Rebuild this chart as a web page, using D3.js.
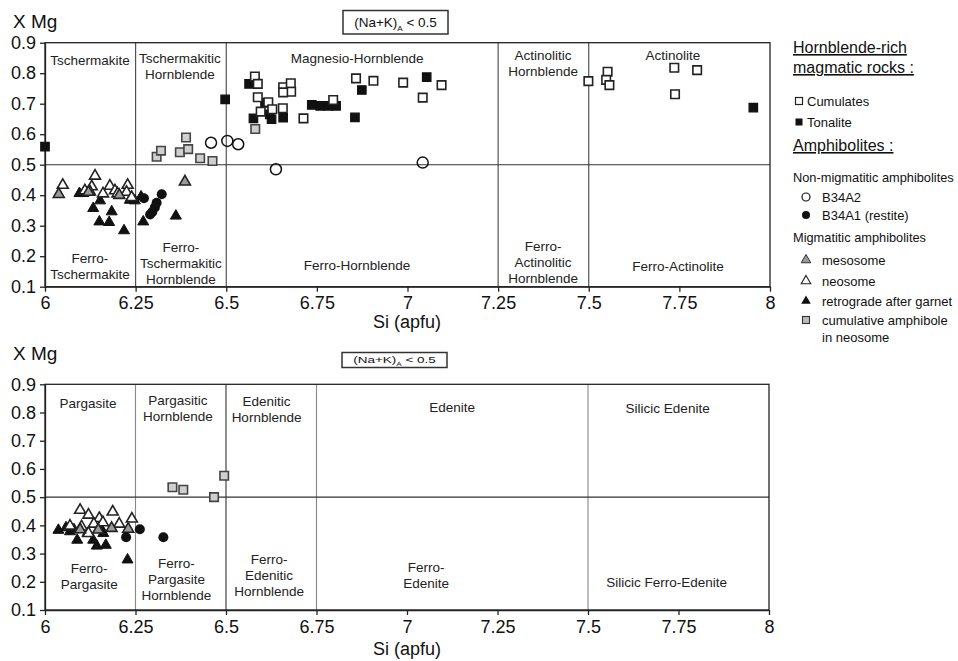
<!DOCTYPE html>
<html><head><meta charset="utf-8">
<script src="https://cdn.jsdelivr.net/npm/d3@7/dist/d3.min.js"></script>
<style>
html,body{margin:0;padding:0;background:#fff;}
svg{display:block;font-family:"Liberation Sans",Arial,Helvetica,sans-serif;}
</style></head>
<body>
<svg id="chart" width="958" height="661"></svg>
<script>
// ---------- DATA ----------
const xTicks = [6, 6.25, 6.5, 6.75, 7, 7.25, 7.5, 7.75, 8];
const yTicks = [0.1, 0.2, 0.3, 0.4, 0.5, 0.6, 0.7, 0.8, 0.9];

// Top panel (Si vs XMg, calcic amphiboles)
const cumulatesTop = [[6.579,0.789],[6.587,0.765],[6.657,0.754],[6.678,0.767],[6.679,0.739],[6.657,0.737],[6.587,0.721],[6.616,0.705],[6.595,0.674],[6.627,0.682],[6.656,0.685],[6.713,0.652],[6.795,0.712],[6.858,0.783],[6.906,0.775],[6.988,0.769],[7.094,0.761],[7.042,0.720],[7.499,0.774],[7.552,0.805],[7.548,0.778],[7.557,0.761],[7.736,0.818],[7.799,0.810],[7.738,0.731]];
const tonaliteTop = [[6.0,0.559],[6.497,0.714],[6.563,0.765],[6.607,0.703],[6.575,0.652],[6.625,0.649],[6.620,0.665],[6.657,0.654],[6.736,0.696],[6.759,0.693],[6.782,0.693],[6.803,0.693],[6.855,0.655],[6.874,0.745],[7.053,0.787],[7.954,0.687]];
const cumAmphTop = [[6.308,0.526],[6.320,0.546],[6.372,0.541],[6.389,0.589],[6.395,0.551],[6.428,0.521],[6.462,0.512],[6.580,0.617]];
const b34a2Top = [[6.458,0.572],[6.503,0.578],[6.533,0.567],[6.637,0.485],[7.042,0.507]];
const b34a1Top = [[6.273,0.390],[6.322,0.403],[6.308,0.375],[6.303,0.360],[6.296,0.345],[6.290,0.337]];
const mesosomeTop = [[6.038,0.403],[6.386,0.444],[6.120,0.410],[6.205,0.400]];
const neosomeTop = [[6.049,0.433],[6.138,0.463],[6.129,0.428],[6.124,0.411],[6.179,0.430],[6.193,0.415],[6.228,0.433],[6.225,0.410],[6.239,0.393],[6.160,0.405],[6.200,0.405],[6.110,0.415]];
const retroTop = [[6.095,0.406],[6.106,0.406],[6.152,0.382],[6.133,0.357],[6.184,0.346],[6.150,0.313],[6.177,0.311],[6.218,0.284],[6.234,0.384],[6.248,0.382],[6.271,0.313],[6.361,0.332],[6.265,0.395]];

// Bottom panel
const cumAmphBot = [[6.352,0.535],[6.382,0.526],[6.467,0.500],[6.495,0.576]];
const b34a1Bot = [[6.224,0.358],[6.262,0.386],[6.327,0.358]];
const neosomeBot = [[6.097,0.454],[6.120,0.437],[6.150,0.425],[6.187,0.448],[6.205,0.405],[6.240,0.423],[6.069,0.398],[6.101,0.395],[6.120,0.372],[6.160,0.410],[6.135,0.405]];
const mesosomeBot = [[6.184,0.390],[6.230,0.387],[6.147,0.384],[6.097,0.385]];
const retroBot = [[6.037,0.383],[6.069,0.378],[6.089,0.348],[6.117,0.372],[6.133,0.348],[6.143,0.327],[6.168,0.330],[6.161,0.372],[6.152,0.395],[6.058,0.392],[6.228,0.278],[6.080,0.385]];

// Field boundaries
const topVLines = [6.25, 6.5, 7.25, 7.5];
const botVLines = [6.25, 6.5, 6.75, 7.5];
const hLine = 0.5;

// Field names: [lines, x (Si), y (XMg) of first baseline]
const topLabels = [
  [["Tschermakite"], 6.124, 0.827],
  [["Tschermakitic","Hornblende"], 6.372, 0.833],
  [["Magnesio-Hornblende"], 6.861, 0.833],
  [["Actinolitic","Hornblende"], 7.374, 0.843],
  [["Actinolite"], 7.732, 0.843],
  [["Ferro-","Tschermakite"], 6.124, 0.178],
  [["Ferro-","Tschermakitic","Hornblende"], 6.375, 0.215],
  [["Ferro-Hornblende"], 6.861, 0.155],
  [["Ferro-","Actinolitic","Hornblende"], 7.374, 0.217],
  [["Ferro-Actinolite"], 7.746, 0.153]
];
const botLabels = [
  [["Pargasite"], 6.119, 0.815],
  [["Pargasitic","Hornblende"], 6.367, 0.827],
  [["Edenitic","Hornblende"], 6.612, 0.824],
  [["Edenite"], 7.125, 0.803],
  [["Silicic Edenite"], 7.72, 0.80],
  [["Ferro-","Pargasite"], 6.122, 0.230],
  [["Ferro-","Pargasite","Hornblende"], 6.363, 0.25],
  [["Ferro-","Edenitic","Hornblende"], 6.619, 0.262],
  [["Ferro-","Edenite"], 7.053, 0.234],
  [["Silicic Ferro-Edenite"], 7.717, 0.183]
];

// ---------- DRAW ----------
const svg = d3.select("#chart");
const FONT_TICK = 18;

const panels = [
  {x: d3.scaleLinear().domain([6,8]).range([45,770]),
   y: d3.scaleLinear().domain([0.1,0.9]).range([286.7,42.7]),
   vlines: topVLines, vcolors: ["#444","#444","#444","#444"], labels: topLabels,
   xmgY: 28, siY: 328, box: {x:343, y:10.5, w:105, h:23.5, fs:13.5, sy:1},
   series: {cum: cumulatesTop, ton: tonaliteTop, ca: cumAmphTop, a2: b34a2Top, a1: b34a1Top, meso: mesosomeTop, neo: neosomeTop, retro: retroTop}},
  {x: d3.scaleLinear().domain([6,8]).range([45,769]),
   y: d3.scaleLinear().domain([0.1,0.9]).range([610,384.3]),
   vlines: botVLines, vcolors: ["#888","#333","#888","#888"], labels: botLabels,
   xmgY: 360, siY: 655, box: {x:342, y:352.5, w:105, h:15, fs:13.5, sy:0.68},
   series: {cum: [], ton: [], ca: cumAmphBot, a2: [], a1: b34a1Bot, meso: mesosomeBot, neo: neosomeBot, retro: retroBot}}
];

const sq = d3.symbol().type(d3.symbolSquare).size(72);
const tri = d3.symbol().type(d3.symbolTriangle).size(52);

panels.forEach(p => {
  const g = svg.append("g");
  const [x0, x1] = p.x.range();
  const [y0, y1] = p.y.range();

  // field boundaries
  p.vlines.forEach((v, i) => {
    g.append("line").attr("x1", p.x(v)).attr("x2", p.x(v)).attr("y1", y0).attr("y2", y1)
      .attr("stroke", p.vcolors[i]).attr("stroke-width", 1.1);
  });
  g.append("line").attr("x1", x0).attr("x2", x1).attr("y1", p.y(hLine)).attr("y2", p.y(hLine))
    .attr("stroke", "#333").attr("stroke-width", 1.1);

  // frame
  g.append("rect").attr("x", x0).attr("y", y1).attr("width", x1 - x0).attr("height", y0 - y1)
    .attr("fill", "none").attr("stroke", "#222").attr("stroke-width", 1.3);

  // axes
  const ax = g.append("g").attr("transform", `translate(0,${y0})`)
    .call(d3.axisBottom(p.x).tickValues(xTicks).tickSize(5).tickSizeOuter(0).tickPadding(5).tickFormat(d3.format("~g")));
  const ay = g.append("g").attr("transform", `translate(${x0},0)`)
    .call(d3.axisLeft(p.y).tickValues(yTicks).tickSize(5).tickSizeOuter(0).tickPadding(4).tickFormat(d3.format(".1f")));
  [ax, ay].forEach(a => {
    a.select(".domain").attr("stroke", "#222").attr("stroke-width", 1.3);
    a.selectAll(".tick line").attr("stroke", "#222").attr("stroke-width", 1.3);
    a.selectAll(".tick text").attr("fill", "#111").style("font-size", FONT_TICK + "px")
      .style("font-family", '"Liberation Sans",Arial,sans-serif');
  });

  // axis titles
  g.append("text").attr("x", 13).attr("y", p.xmgY).text("X Mg")
    .style("font-size", "19px").attr("fill", "#111");
  g.append("text").attr("x", 407).attr("y", p.siY).attr("text-anchor", "middle").text("Si (apfu)")
    .style("font-size", "18px").attr("fill", "#111");

  // condition box
  const b = p.box;
  g.append("rect").attr("x", b.x).attr("y", b.y).attr("width", b.w).attr("height", b.h)
    .attr("fill", "#fff").attr("stroke", "#333").attr("stroke-width", 1.5);
  const cy = b.y + b.h / 2;
  const bt = g.append("text")
    .attr("transform", `translate(${b.x + b.w / 2},${cy}) scale(1,${b.sy})`)
    .attr("y", b.fs * 0.36)
    .attr("text-anchor", "middle").style("font-size", b.fs + "px").attr("fill", "#111");
  bt.append("tspan").text("(Na+K)");
  bt.append("tspan").text("A").style("font-size", (b.fs * 0.6) + "px").attr("dy", b.fs * 0.3);
  bt.append("tspan").text(" < 0.5").attr("dy", -b.fs * 0.3);

  // field labels
  p.labels.forEach(([lines, lx, ly]) => {
    const t = g.append("text").attr("text-anchor", "middle").style("font-size", "13.5px").attr("fill", "#222");
    lines.forEach((s, i) => {
      t.append("tspan").attr("x", p.x(lx)).attr("y", p.y(ly) + i * 16).text(s);
    });
  });

  // markers
  const s = p.series;
  const pts = g.append("g");
  pts.selectAll(".ton").data(s.ton).join("path").attr("d", sq)
    .attr("transform", d => `translate(${p.x(d[0])},${p.y(d[1])})`)
    .attr("fill", "#111").attr("stroke", "#111").attr("stroke-width", 1.2);
  pts.selectAll(".cum").data(s.cum).join("path").attr("d", sq)
    .attr("transform", d => `translate(${p.x(d[0])},${p.y(d[1])})`)
    .attr("fill", "#fff").attr("stroke", "#222").attr("stroke-width", 1.6);
  pts.selectAll(".ca").data(s.ca).join("path").attr("d", sq)
    .attr("transform", d => `translate(${p.x(d[0])},${p.y(d[1])})`)
    .attr("fill", "#cfcfcf").attr("stroke", "#444").attr("stroke-width", 1.6);
  pts.selectAll(".retro").data(s.retro).join("path").attr("d", tri)
    .attr("transform", d => `translate(${p.x(d[0])},${p.y(d[1])})`)
    .attr("fill", "#111").attr("stroke", "#111").attr("stroke-width", 1);
  pts.selectAll(".neo").data(s.neo).join("path").attr("d", tri)
    .attr("transform", d => `translate(${p.x(d[0])},${p.y(d[1])})`)
    .attr("fill", "#fff").attr("stroke", "#222").attr("stroke-width", 1.6);
  pts.selectAll(".meso").data(s.meso).join("path").attr("d", tri)
    .attr("transform", d => `translate(${p.x(d[0])},${p.y(d[1])})`)
    .attr("fill", "#9a9a9a").attr("stroke", "#222").attr("stroke-width", 1.6);
  pts.selectAll(".a1").data(s.a1).join("circle")
    .attr("cx", d => p.x(d[0])).attr("cy", d => p.y(d[1])).attr("r", 5)
    .attr("fill", "#111");
  pts.selectAll(".a2").data(s.a2).join("circle")
    .attr("cx", d => p.x(d[0])).attr("cy", d => p.y(d[1])).attr("r", 5.5)
    .attr("fill", "none").attr("stroke", "#111").attr("stroke-width", 1.5);
});

// ---------- LEGEND ----------
const lg = svg.append("g").attr("fill", "#111");
const head = (txt, y) => lg.append("text").attr("x", 793).attr("y", y).text(txt)
  .style("font-size", "16px").style("text-decoration", "underline");
head("Hornblende-rich", 53);
head("magmatic rocks :", 73);
head("Amphibolites :", 151);
const item = (txt, x, y, fs) => lg.append("text").attr("x", x).attr("y", y).text(txt).style("font-size", fs + "px");

lg.append("rect").attr("x", 795.5).attr("y", 97.5).attr("width", 7).attr("height", 7).attr("fill", "#fff").attr("stroke", "#222").attr("stroke-width", 1.2);
item("Cumulates", 807, 106, 13);
lg.append("rect").attr("x", 795.5).attr("y", 118.5).attr("width", 7).attr("height", 7).attr("fill", "#111");
item("Tonalite", 807, 127, 13);

item("Non-migmatitic amphibolites", 793, 182, 12.8);
lg.append("circle").attr("cx", 806).attr("cy", 197).attr("r", 4).attr("fill", "none").attr("stroke", "#111").attr("stroke-width", 1.2);
item("B34A2", 822, 202, 13);
lg.append("circle").attr("cx", 806).attr("cy", 215).attr("r", 4).attr("fill", "#111");
item("B34A1 (restite)", 822, 220, 13);

item("Migmatitic amphibolites", 793, 242, 12.8);
const ltri = d3.symbol().type(d3.symbolTriangle).size(40);
lg.append("path").attr("d", ltri).attr("transform", "translate(806,260)").attr("fill", "#9a9a9a").attr("stroke", "#333").attr("stroke-width", 1);
item("mesosome", 822, 265, 13);
lg.append("path").attr("d", ltri).attr("transform", "translate(806,281)").attr("fill", "#fff").attr("stroke", "#222").attr("stroke-width", 1.1);
item("neosome", 822, 286, 13);
lg.append("path").attr("d", ltri).attr("transform", "translate(806,301)").attr("fill", "#111");
item("retrograde after garnet", 822, 306, 13);
lg.append("rect").attr("x", 802.5).attr("y", 316.5).attr("width", 7).attr("height", 7).attr("fill", "#bbb").attr("stroke", "#333").attr("stroke-width", 1.1);
item("cumulative amphibole", 822, 325, 13);
item("in neosome", 822, 342, 13);
</script>
</body></html>
